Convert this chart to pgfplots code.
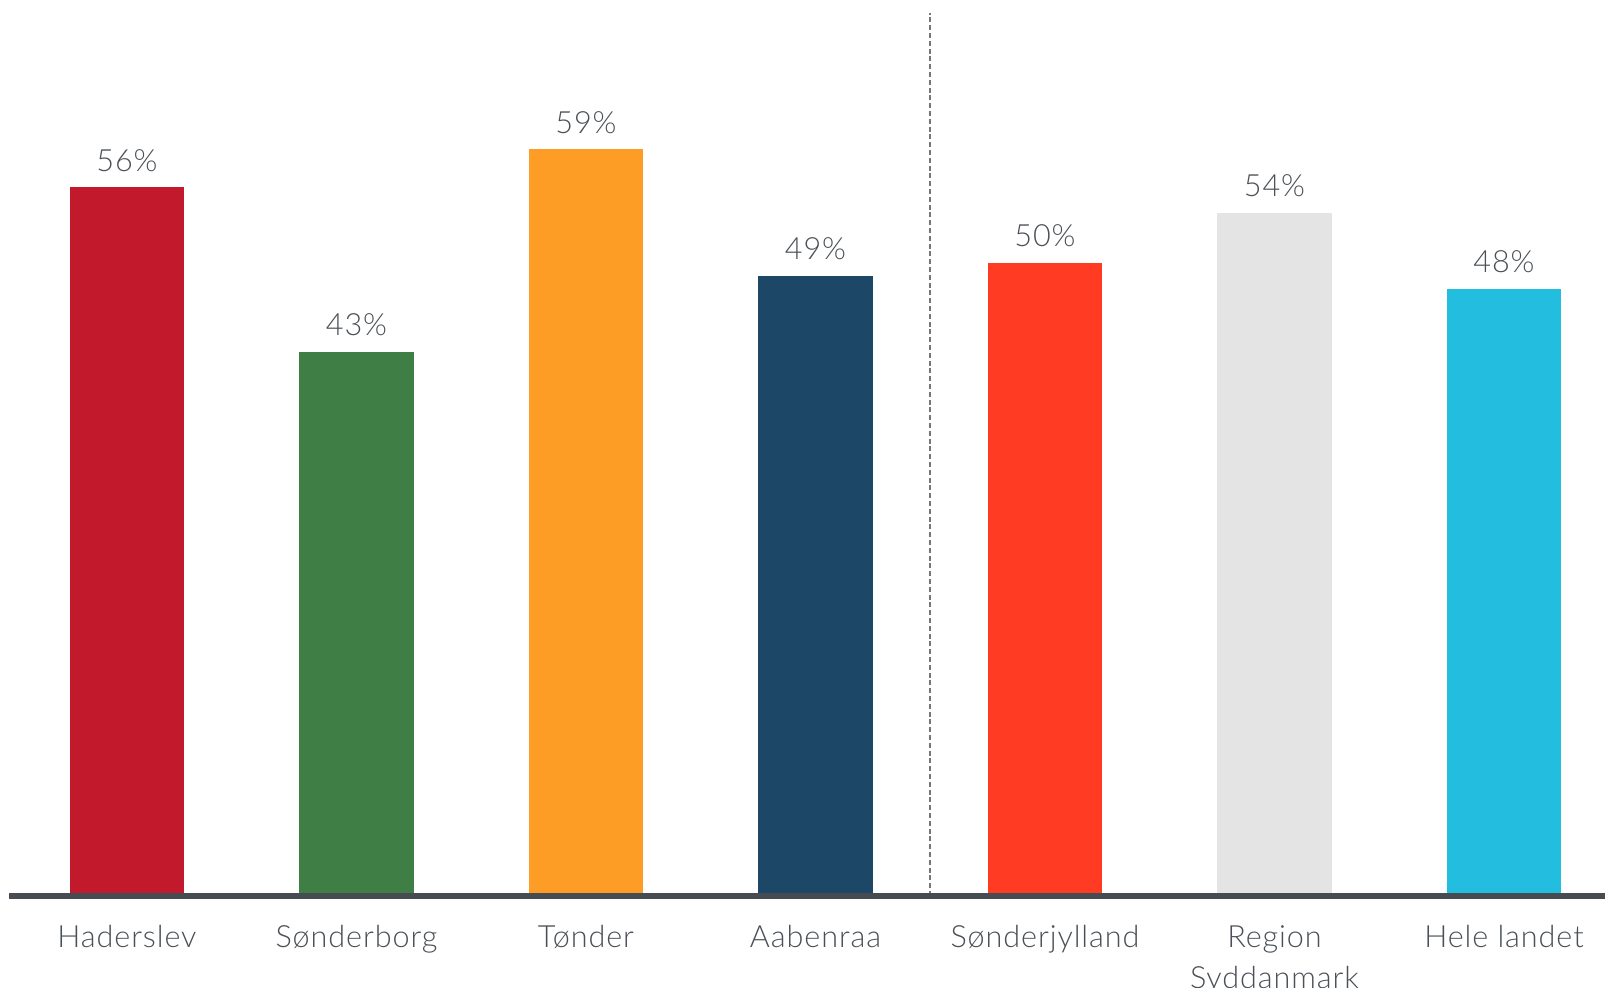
\documentclass[border=0pt]{standalone}
\usepackage{pgfplots}
\pgfplotsset{compat=1.18}
\usepackage{fontspec}
\setmainfont{Lato Light}[LetterSpace=3]

\definecolor{txtgray}{HTML}{4A5056}
\definecolor{axgray}{HTML}{474C52}
\definecolor{dashgray}{HTML}{777777}
\definecolor{cHad}{HTML}{C3192D}
\definecolor{cSon}{HTML}{3F7E45}
\definecolor{cTon}{HTML}{FD9D26}
\definecolor{cAab}{HTML}{1C4767}
\definecolor{cSjy}{HTML}{FF3B23}
\definecolor{cReg}{HTML}{E4E4E4}
\definecolor{cHel}{HTML}{23BDE0}

\begin{document}
\begin{tikzpicture}
\begin{axis}[
    name=ax,
    scale only axis,
    width=798pt, height=448pt,
    xmin=-0.514, xmax=6.44,
    ymin=0, ymax=70.8,
    axis x line=bottom,
    axis y line=none,
    x axis line style={-, line width=3pt, color=axgray},
    axis on top,
    xtick={0,...,6},
    xticklabels={Haderslev, Sønderborg, Tønder, Aabenraa, Sønderjylland, Region\\Syddanmark, Hele landet},
    xtick style={draw=none},
    xticklabel style={align=center, anchor=north, inner sep=0pt, yshift=-12.5pt,
        font=\fontsize{15.3}{20.5}\selectfont, text=txtgray},
    every bar/.style={draw=none},
    bar width=0.5,
    /pgf/number format/assume math mode=true,
    nodes near coords={\pgfmathprintnumber{\pgfplotspointmeta}\%},
    every node near coord/.append style={font=\fontsize{15.3}{18}\selectfont,
        text=txtgray, anchor=south, inner sep=0pt, yshift=7.8pt},
]
\addplot[ybar, bar shift=0pt, fill=cHad, draw=none] coordinates {(0,56)};
\addplot[ybar, bar shift=0pt, fill=cSon, draw=none] coordinates {(1,43)};
\addplot[ybar, bar shift=0pt, fill=cTon, draw=none] coordinates {(2,59)};
\addplot[ybar, bar shift=0pt, fill=cAab, draw=none] coordinates {(3,49)};
\addplot[ybar, bar shift=0pt, fill=cSjy, draw=none] coordinates {(4,50)};
\addplot[ybar, bar shift=0pt, fill=cReg, draw=none] coordinates {(5,54)};
\addplot[ybar, bar shift=0pt, fill=cHel, draw=none] coordinates {(6,48)};
% divider between municipalities and aggregates
\addplot[sharp plot, no marks, nodes near coords={}, draw=dashgray, line width=0.8pt,
    dash pattern=on 2.5pt off 1.4pt] coordinates {(3.5,0) (3.5,69.8)};
\end{axis}
\pgfresetboundingbox
\path ([xshift=-4.5pt, yshift=-46pt]ax.south west) rectangle (ax.north east);
\end{tikzpicture}
\end{document}
